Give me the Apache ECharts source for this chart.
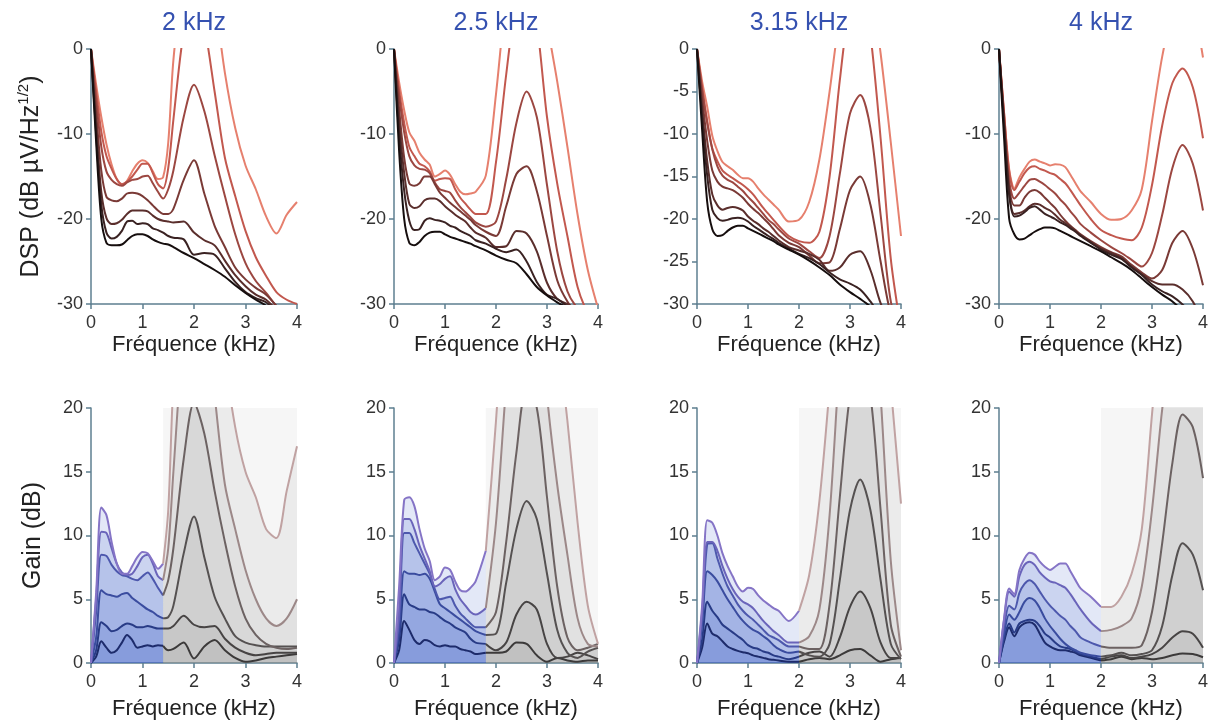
<!DOCTYPE html>
<html><head><meta charset="utf-8">
<script src="https://cdn.jsdelivr.net/npm/echarts@6/dist/echarts.min.js"></script>
<style>html,body{margin:0;padding:0;background:#fff}#c{width:1213px;height:722px}</style>
</head><body><div id="c"></div>
<script>
// ---------- data ----------
const FREQ = [0,0.1,0.2,0.3,0.4,0.5,0.6,0.7,0.8,0.9,1.0,1.1,1.2,1.3,1.4,1.5,1.6,1.8,2.0,2.2,2.4,2.6,2.8,3.0,3.2,3.4,3.6,3.8,4.0];
const PANEL_TITLES = ['2 kHz','2.5 kHz','3.15 kHz','4 kHz'];
const CUTOFF_KHZ = [1.4, 1.8, 2.0, 2.0];
const DSP_TICK_STEP = [10, 10, 5, 10];
const X_TICKS = [0,1,2,3,4];

// DSP (dB µV/Hz^1/2), curve 0 = reference (black) ... curve 6 = lightest
const dsp2k = [
 [0,-11,-20,-22.8,-23.1,-23.1,-23.0,-22.5,-22.0,-21.8,-21.8,-22.0,-22.4,-22.7,-22.9,-23.0,-23.3,-24.0,-24.6,-25.3,-26.0,-26.8,-27.8,-28.7,-29.5,-30.2,-31.5,-33.0,-35.0],
 [0,-10,-18.3,-21.6,-22.3,-22.1,-21.4,-20.3,-20.2,-20.6,-20.5,-20.6,-21.1,-21.3,-21.6,-22.0,-22.2,-22.4,-24.2,-24.0,-24.2,-25.8,-27.4,-28.6,-29.3,-29.8,-31.0,-32.4,-34.3],
 [0,-9,-16.8,-19.9,-20.6,-20.5,-20.1,-19.4,-19.0,-19.0,-19.0,-19.1,-19.6,-20.0,-20.2,-20.3,-20.4,-20.3,-21.6,-22.5,-23.1,-24.9,-26.6,-27.9,-28.9,-29.5,-30.7,-32.2,-34.2],
 [0,-7.5,-14.3,-17.4,-17.8,-17.9,-17.6,-17.0,-16.9,-17.0,-17.3,-17.8,-18.4,-19.0,-19.4,-19.4,-18.8,-15.4,-13.1,-17.0,-20.8,-23.3,-25.7,-27.1,-28.1,-28.9,-30.2,-31.7,-33.7],
 [0,-6,-11.5,-14.4,-15.4,-15.9,-16.1,-15.7,-15.4,-15.3,-15.0,-14.9,-15.8,-16.8,-17.6,-16.5,-14.3,-8.0,-4.2,-7.3,-12.5,-17.3,-21.8,-25.2,-27.3,-28.7,-30.3,-31.9,-33.8],
 [0,-5,-9.7,-12.6,-14.1,-15.3,-15.9,-15.6,-15.0,-14.2,-13.5,-13.5,-14.6,-15.9,-16.4,-14.0,-8.3,2.0,6.4,2.7,-5.0,-12.8,-17.3,-21.4,-24.5,-26.7,-28.6,-29.5,-30.0],
 [0,-4.2,-8,-11.2,-13.6,-15.3,-16.0,-15.5,-14.4,-13.5,-13.1,-13.4,-14.4,-15.3,-15.1,-11,-1.3,9,14.4,12.7,6,-2.8,-9.3,-13.7,-16.5,-19.7,-21.7,-19.5,-18]
];
const dsp25k = [
 [0,-12,-20,-22.8,-23.1,-22.7,-22.0,-21.6,-21.5,-21.5,-21.8,-22.1,-22.3,-22.5,-22.7,-22.9,-23.2,-23.7,-24.3,-24.8,-25.2,-26.5,-28.0,-29.0,-29.8,-30.5,-31.5,-32.5,-33.5],
 [0,-10,-16.7,-20.2,-21.3,-21.2,-20.2,-19.9,-20.1,-20.2,-20.4,-20.8,-21.0,-21.4,-21.7,-22.0,-22.5,-22.9,-23.5,-23.9,-23.6,-25.0,-27.4,-28.9,-29.4,-30.3,-31.4,-32.3,-33.3],
 [0,-8.5,-14.6,-18.2,-18.7,-18.5,-17.8,-17.6,-17.6,-17.9,-18.5,-19.0,-19.5,-19.9,-20.3,-21.0,-21.6,-22.2,-23.3,-23.2,-21.4,-21.7,-23.8,-27.5,-29.4,-30.0,-30.7,-31.9,-33.2],
 [0,-7,-12.8,-15.8,-16.1,-15.8,-15.0,-15.0,-15.9,-16.9,-17.5,-18.1,-18.6,-19.1,-19.6,-20.1,-20.7,-21.5,-22.0,-18.5,-14.7,-13.8,-16.7,-22.0,-27.2,-29.7,-31.1,-31.6,-32.3],
 [0,-5.5,-9.8,-12.6,-13.7,-14.1,-14.2,-14.6,-15.7,-16.5,-16.7,-16.9,-17.8,-18.6,-19.2,-19.8,-20.4,-20.9,-20.3,-15.3,-8.7,-5.0,-8.0,-16.0,-23.8,-28.5,-30.5,-31.3,-32],
 [0,-4.8,-8.7,-11.5,-12.6,-13.5,-13.8,-14.4,-15.5,-15.3,-15.2,-15.3,-16.5,-17.5,-18.2,-18.9,-19.4,-19.4,-13.3,-3.0,5.8,9.0,3.0,-8.0,-15.8,-22.0,-28.0,-31.0,-32.2],
 [0,-3.9,-7.2,-9.8,-10.8,-12.2,-13.0,-13.6,-15.0,-14.7,-14.3,-14.8,-15.9,-16.8,-17.1,-17.0,-16.8,-14.9,-5.3,6.2,12.8,14.5,10,3,-3.8,-11.5,-19.5,-26,-30.5]
];
const dsp315k = [
 [0,-9.5,-18,-21.2,-22.0,-21.9,-21.4,-21.0,-20.8,-20.8,-21.1,-21.4,-21.7,-22.0,-22.3,-22.6,-23.0,-23.6,-24.2,-24.9,-25.7,-26.6,-27.7,-28.6,-29.4,-30.3,-31.5,-32.7,-34],
 [0,-8,-14.9,-18.9,-19.9,-20.2,-20.1,-19.9,-19.85,-19.95,-20.3,-20.8,-21.2,-21.6,-22.0,-22.35,-22.8,-23.5,-24.1,-24.6,-25.3,-26.3,-27.1,-27.6,-28.3,-29.7,-31.4,-32.4,-33.6],
 [0,-7,-13.2,-17.1,-18.4,-18.9,-18.7,-18.6,-18.7,-19.0,-19.7,-20.2,-20.6,-21.1,-21.5,-22.0,-22.5,-23.3,-23.7,-24.1,-24.8,-26.1,-25.7,-24.2,-23.8,-26.0,-29.9,-32.3,-33.6],
 [0,-5.8,-10.8,-14.3,-15.6,-16.2,-16.4,-16.6,-17.0,-17.5,-18.2,-18.8,-19.3,-19.9,-20.5,-21.2,-21.9,-22.8,-23.3,-24.3,-25.2,-25.1,-21.2,-16.6,-15.0,-18.3,-25.0,-31.2,-33.7],
 [0,-4.8,-8.7,-11.8,-13.8,-14.9,-15.4,-15.7,-16.2,-16.7,-17.4,-18.0,-18.7,-19.4,-20.1,-20.6,-21.2,-22.3,-22.9,-23.8,-24.6,-22.0,-14.7,-7.6,-5.4,-9.3,-19.5,-29.7,-33.5],
 [0,-4.5,-8.5,-11.7,-13.2,-14.3,-14.8,-15.2,-15.6,-16.0,-16.5,-17.1,-17.9,-18.7,-19.4,-20.1,-20.8,-22.0,-22.6,-22.8,-21.5,-15.0,-3.7,5.4,8.6,1.7,-10.5,-24.7,-33],
 [0,-3.8,-6.8,-10.2,-12.0,-13.3,-13.8,-14.2,-14.8,-15.2,-15.2,-15.6,-16.4,-17.1,-17.7,-18.3,-18.9,-20.3,-20.1,-18.0,-13.0,-5.0,4.0,10.0,12.0,8.0,-0.5,-11.0,-22.0]
];
const dsp4k = [
 [0,-10.5,-20,-21.8,-22.4,-22.3,-21.9,-21.5,-21.2,-21.0,-21.0,-21.1,-21.4,-21.7,-22.0,-22.3,-22.6,-23.2,-23.8,-24.5,-25.2,-26.0,-27.0,-28.0,-28.9,-29.7,-30.8,-32.0,-33.5],
 [0,-9,-17.2,-19.7,-19.6,-19.2,-18.7,-18.5,-18.9,-19.4,-19.7,-20.0,-20.4,-20.7,-21.1,-21.5,-22.0,-22.8,-23.6,-24.2,-24.7,-25.7,-26.6,-27.7,-28.5,-29.1,-30.05,-31.3,-33.05],
 [0,-8.8,-16.9,-19.4,-19.3,-19.0,-18.5,-18.2,-18.3,-18.7,-19.0,-19.5,-20.1,-20.5,-20.9,-21.4,-21.9,-22.7,-23.5,-24.0,-24.6,-25.6,-26.5,-27.3,-27.7,-27.7,-28.3,-29.7,-32.3],
 [0,-8.5,-16.2,-18.4,-18.4,-17.5,-16.8,-16.6,-16.9,-17.5,-18.1,-18.7,-19.5,-20.2,-20.8,-21.3,-21.8,-22.6,-23.3,-23.9,-24.4,-25.4,-26.3,-27.0,-26.0,-22.8,-21.4,-23.5,-27.8],
 [0,-8,-15.5,-17.6,-16.9,-16.1,-15.4,-15.3,-15.6,-16.0,-16.5,-17.0,-17.7,-18.3,-19.1,-19.8,-20.6,-21.6,-22.5,-23.3,-24.0,-24.8,-25.6,-24.0,-19.5,-14.0,-11.3,-13.5,-19.0],
 [0,-7.6,-14.4,-16.6,-15.6,-14.6,-13.95,-13.8,-14.1,-14.3,-14.6,-14.8,-15.3,-15.8,-16.6,-17.5,-18.4,-20.0,-21.3,-21.9,-22.3,-22.5,-21.0,-16.0,-9.0,-4.0,-2.3,-4.5,-10.5],
 [0,-7.5,-14.15,-16.4,-15.1,-14.1,-13.25,-13.0,-13.25,-13.45,-13.7,-13.55,-13.6,-13.9,-14.8,-15.8,-16.75,-18.0,-19.4,-20.1,-20.0,-19.0,-16.5,-8.5,-0.9,4.3,7.2,5.0,-1.0]
];

// Gain (dB), curve 0 = smallest ... curve 5 = largest
const gain2k = [
 [0,0.5,1.7,1.2,0.8,1.0,1.6,2.2,1.8,1.2,1.3,1.4,1.3,1.4,1.35,1.0,1.1,1.6,0.35,1.3,1.8,1.0,0.4,0.1,0.2,0.4,0.5,0.6,0.7],
 [0,1.0,3.2,2.9,2.5,2.6,2.9,3.1,3.0,2.8,2.8,2.9,2.8,2.7,2.7,2.7,2.9,3.7,3.0,2.8,2.9,1.9,1.2,0.8,0.6,0.7,0.8,0.8,0.8],
 [0,2.0,5.7,5.4,5.3,5.2,5.4,5.5,5.1,4.8,4.5,4.2,4.0,3.7,3.5,3.6,4.5,8.6,11.5,8.3,5.2,3.5,2.1,1.6,1.4,1.3,1.3,1.3,1.3],
 [0,4.0,8.5,8.4,7.7,7.2,6.9,6.8,6.6,6.5,6.8,7.1,6.6,5.9,5.3,6.5,9.0,16.0,20.4,18.0,13.5,9.5,6.0,3.5,2.2,1.5,1.2,1.1,1.2],
 [0,5.0,10.3,10.2,9.0,7.8,7.1,6.9,7.0,7.6,8.3,8.5,7.8,6.8,6.5,9.0,15.0,26,31,28,21,14.0,10.5,7.3,5.0,3.5,2.9,3.5,5.0],
 [0,5.5,12.2,11.6,9.5,7.8,7.0,7.0,7.6,8.3,8.7,8.6,8.0,7.4,7.8,12,22,33,39,38,32,24,18.5,15,13,10.5,9.8,13.5,17]
];
const gain25k = [
 [0,1.0,3.3,2.6,1.8,1.5,1.8,1.7,1.4,1.3,1.4,1.3,1.3,1.1,1.0,0.9,0.7,0.8,0.8,0.9,1.6,1.5,0.6,0.1,0.4,0.2,0.1,0.2,0.2],
 [0,1.8,5.4,4.6,4.4,4.2,4.2,4.0,3.9,3.6,3.3,3.1,2.8,2.6,2.4,1.9,1.6,1.5,1.0,1.6,3.8,4.8,4.2,1.5,0.4,0.5,0.8,0.6,0.3],
 [0,2.5,7.2,7.0,7.0,6.9,7.0,6.6,5.6,4.6,4.3,4.0,3.7,3.4,3.1,2.8,2.5,2.2,2.3,6.3,10.5,12.7,11.3,7.0,2.6,0.8,0.4,0.9,1.2],
 [0,3.5,10.2,10.2,9.4,8.6,7.8,7.0,5.8,5.0,5.1,5.2,4.5,3.9,3.5,3.1,2.8,2.8,4.0,9.5,16.5,21.5,20,13,6,2,1.0,1.2,1.5],
 [0,4,11.3,11.3,10.5,9.2,8.2,7.2,6.0,6.2,6.6,6.8,5.8,5.0,4.5,4.0,3.8,4.3,11,21.8,31,35.5,31,21,14,8.5,3.5,1.5,1.3],
 [0,6,12.8,13.0,12.3,10.5,9.0,8.0,6.5,6.8,7.5,7.3,6.4,5.7,5.6,5.9,6.4,8.8,19,31,38,41,38,32,26,19,11,4.5,1.5]
];
const gain315k = [
 [0,1.2,3.1,2.3,2.1,1.7,1.3,1.1,0.95,0.85,0.76,0.6,0.5,0.4,0.3,0.25,0.2,0.1,0.1,0.3,0.4,0.3,0.6,1.0,1.1,0.6,0.1,0.3,0.4],
 [0,1.8,4.8,4.1,3.6,3.0,2.7,2.4,2.1,1.8,1.4,1.2,1.1,0.9,0.8,0.6,0.5,0.3,0.5,0.8,0.9,0.5,2.0,4.4,5.6,4.3,1.6,0.4,0.4],
 [0,3,7.2,6.9,6.4,5.7,5.0,4.4,3.8,3.3,2.9,2.6,2.4,2.1,1.8,1.4,1.1,0.8,0.9,0.6,0.5,1.5,6.5,12,14.4,12,6.5,1.5,0.3],
 [0,3.5,9.3,9.4,8.2,7.0,6.0,5.3,4.6,4.1,3.7,3.4,3.0,2.6,2.2,2.0,1.8,1.3,1.3,1.1,1.1,4.6,13,21,24,21,12,3,0.5],
 [0,4,9.5,9.5,8.8,7.6,6.6,5.8,5.2,4.8,4.6,4.3,3.8,3.3,2.9,2.5,2.2,1.6,1.6,2.1,4.2,11.6,24,34,38,32,21,8,1.0],
 [0,4.5,11.2,11.0,10.0,8.6,7.6,6.8,6.0,5.6,5.9,5.8,5.3,4.9,4.6,4.3,4.1,3.3,4.1,6.9,12.7,21.6,31.7,38.6,41.4,38.3,31,21.7,12.5]
];
const gain4k = [
 [0,1.7,2.8,2.1,2.8,3.1,3.2,3.0,2.3,1.6,1.3,1.1,1.0,1.0,0.9,0.8,0.6,0.4,0.2,0.3,0.5,0.3,0.4,0.3,0.4,0.6,0.75,0.7,0.45],
 [0,1.9,3.1,2.4,3.1,3.3,3.4,3.3,2.9,2.3,2.0,1.6,1.3,1.2,1.1,0.9,0.7,0.5,0.3,0.5,0.6,0.4,0.5,0.7,1.2,2.0,2.5,2.3,1.2],
 [0,2.3,3.8,3.4,4.0,4.8,5.1,4.9,4.3,3.5,2.9,2.4,1.9,1.5,1.2,1.0,0.8,0.6,0.5,0.6,0.8,0.6,0.7,1.0,2.9,6.9,9.4,8.5,5.7],
 [0,2.8,4.5,4.2,5.5,6.2,6.5,6.2,5.6,5.0,4.5,4.1,3.7,3.4,2.9,2.5,2.0,1.6,1.3,1.2,1.2,1.2,1.4,4.0,9.4,15.7,19.5,18.5,14.5],
 [0,3.4,5.6,5.2,6.8,7.7,7.95,7.7,7.1,6.7,6.4,6.3,6.1,5.9,5.4,4.8,4.2,3.2,2.5,2.6,2.9,3.5,6.0,12.0,19.9,25.7,28.5,27.5,23.0],
 [0,3.5,5.85,5.4,7.3,8.2,8.65,8.5,7.95,7.55,7.3,7.55,7.8,7.8,7.2,6.5,5.85,5.2,4.4,4.4,5.2,7.0,10.5,19.5,28.0,34.0,38.0,37.0,32.5]
];

// ---------- styles ----------
const FONT = '"Liberation Sans", Arial, Helvetica, sans-serif';
const AXIS_COLOR = '#5e7f90';
const DSP_COLORS = ['#160e0e','#3a2222','#5a2e2c','#7a3a36','#9c4741','#c2584e','#e6806e'];
const BLUE_LINES = ['#1d2b6b','#283b86','#3a4c9f','#4d58ad','#6a64ba','#8574c6'];
const GREY_LINES = ['#3c3a3a','#474444','#555151','#6c6262','#9c8888','#c0a2a2'];
const BLUE_FILL = 'rgba(58,92,200,0.2)';
const GREY_FILL = 'rgba(110,110,110,0.11)';
const BAND_FILL = 'rgba(215,215,215,0.22)';

const LEFTS = [91, 394, 697, 999];
const WIDTHS = [206, 204, 204, 204];
const TOP_ROW = {top: 49, height: 255, nameGap: 30};
const BOT_ROW = {top: 408, height: 255, nameGap: 35};

const DSP_PANELS = [dsp2k, dsp25k, dsp315k, dsp4k];
const GAIN_PANELS = [gain2k, gain25k, gain315k, gain4k];

const grids = [], xAxes = [], yAxes = [], series = [], titles = [];

function xAxisCfg(gi, gap) {
  return {
    type: 'value', gridIndex: gi, min: X_TICKS[0], max: X_TICKS[X_TICKS.length-1], interval: 1,
    axisLine: {show: true, onZero: false, lineStyle: {color: AXIS_COLOR, width: 1.5}},
    axisTick: {show: true, length: 5, lineStyle: {color: AXIS_COLOR, width: 1.5}},
    axisLabel: {fontSize: 18, color: '#333', margin: 10, fontFamily: FONT},
    splitLine: {show: false},
    name: 'Fréquence (kHz)', nameLocation: 'middle', nameGap: gap,
    nameTextStyle: {fontSize: 22, color: '#222', fontFamily: FONT}
  };
}
function yAxisCfg(gi, min, max, step, name) {
  const cfg = {
    type: 'value', gridIndex: gi, min: min, max: max, interval: step,
    axisLine: {show: true, onZero: false, lineStyle: {color: AXIS_COLOR, width: 1.5}},
    axisTick: {show: true, length: 5, lineStyle: {color: AXIS_COLOR, width: 1.5}},
    axisLabel: {fontSize: 18, color: '#333', margin: 8, fontFamily: FONT},
    splitLine: {show: false}
  };
  if (name) {
    cfg.name = name; cfg.nameLocation = 'middle'; cfg.nameGap = 45;
    cfg.nameTextStyle = {fontSize: 25, color: '#222', fontFamily: FONT,
      rich: {a: {fontSize: 25, color: '#222', fontFamily: FONT, lineHeight: 30},
             s: {fontSize: 15, color: '#222', fontFamily: FONT, verticalAlign: 'top', lineHeight: 30}}};
  }
  return cfg;
}

for (let p = 0; p < 4; p++) {
  grids.push({left: LEFTS[p], width: WIDTHS[p], top: TOP_ROW.top, height: TOP_ROW.height});
  xAxes.push(xAxisCfg(p, TOP_ROW.nameGap));
  yAxes.push(yAxisCfg(p, -30, 0, DSP_TICK_STEP[p], p === 0 ? '{a|DSP (dB µV/Hz}{s|1/2}{a|)}' : null));
  titles.push({text: PANEL_TITLES[p], left: LEFTS[p] + WIDTHS[p] / 2, top: 11, textAlign: 'center', padding: 0,
    textStyle: {fontSize: 25, fontWeight: 'normal', color: '#3551b0', fontFamily: FONT}});
}
for (let p = 0; p < 4; p++) {
  grids.push({left: LEFTS[p], width: WIDTHS[p], top: BOT_ROW.top, height: BOT_ROW.height});
  xAxes.push(xAxisCfg(p + 4, BOT_ROW.nameGap));
  yAxes.push(yAxisCfg(p + 4, 0, 20, 5, p === 0 ? 'Gain (dB)' : null));
}

DSP_PANELS.forEach((curves, p) => {
  for (let i = curves.length - 1; i >= 0; i--) {
    series.push({
      type: 'line', xAxisIndex: p, yAxisIndex: p, smooth: 0.3, symbol: 'none', clip: true, silent: true,
      data: FREQ.map((f, k) => [f, curves[i][k]]),
      lineStyle: {color: DSP_COLORS[i], width: 2}
    });
  }
});

GAIN_PANELS.forEach((curves, p) => {
  const ax = p + 4, cut = CUTOFF_KHZ[p];
  curves.forEach((c, i) => {
    const pts = FREQ.map((f, k) => [f, c[k]]);
    series.push({
      type: 'line', xAxisIndex: ax, yAxisIndex: ax, smooth: 0.3, symbol: 'none', clip: true, silent: true,
      data: pts.filter(d => d[0] <= cut + 1e-9),
      lineStyle: {color: BLUE_LINES[i], width: 2},
      areaStyle: {color: BLUE_FILL}
    });
    const g = {
      type: 'line', xAxisIndex: ax, yAxisIndex: ax, smooth: 0.3, symbol: 'none', clip: true, silent: true,
      data: pts.filter(d => d[0] >= cut - 1e-9),
      lineStyle: {color: GREY_LINES[i], width: 2},
      areaStyle: {color: GREY_FILL}
    };
    if (i === 0) {
      g.markArea = {silent: true, itemStyle: {color: BAND_FILL}, data: [[{xAxis: cut}, {xAxis: X_TICKS[X_TICKS.length-1]}]]};
    }
    series.push(g);
  });
});

const chart = echarts.init(document.getElementById('c'), null, {renderer: 'canvas'});
chart.setOption({
  animation: false,
  backgroundColor: '#fff',
  textStyle: {fontFamily: FONT},
  title: titles,
  grid: grids,
  xAxis: xAxes,
  yAxis: yAxes,
  series: series
});
</script>
</body></html>
